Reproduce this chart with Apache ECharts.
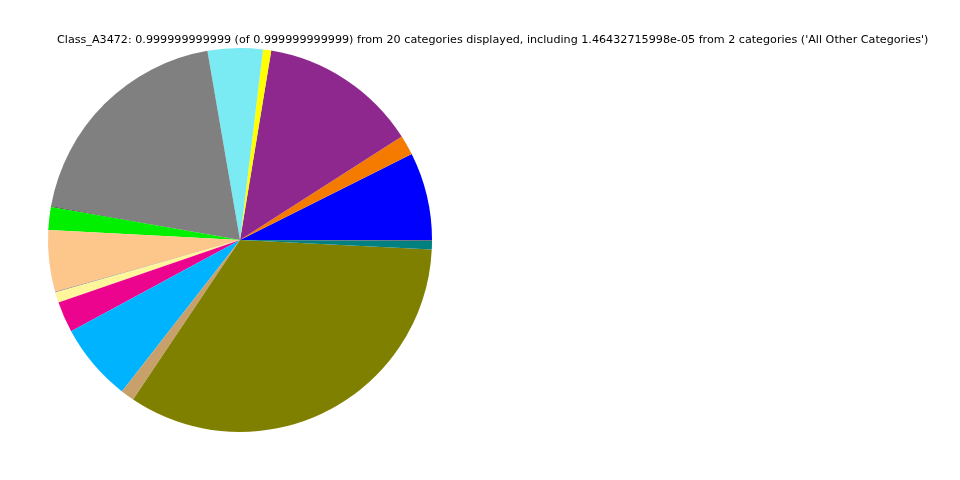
<!DOCTYPE html>
<html><head><meta charset="utf-8">
<script src="https://cdn.jsdelivr.net/npm/echarts@6/dist/echarts.min.js"></script>
<style>html,body{margin:0;padding:0;background:#fff}#c{width:960px;height:480px}</style>
</head><body><div id="c"></div>
<script>
var titleText = "Class_A3472: 0.999999999999 (of 0.999999999999) from 20 categories displayed, including 1.46432715998e-05 from 2 categories ('All Other Categories')";
var categories = ["Cat 1","Cat 2","Cat 3","Cat 4","Cat 5","Cat 6","Cat 7","Cat 8","Cat 9","Cat 10","Cat 11","Cat 12","Cat 13","Cat 14","Cat 15","Cat 16","Cat 17","Cat 18","All Other Categories","Cat 20"];
var values = [0.0740,0.0167,0.1336,0.0069,0.0464,0.1950,0.0006,0.0192,0.0519,0.0005,0.0089,0.0261,0.0658,0.0114,0.3367,0.0069,0.0004,0.0003,0.0000146,0.0002];
var colors = ["#0000ff","#f57a00","#8e288e","#ffff00","#7aeaf3","#808080","#333333","#00f000","#fdc78c","#888888","#fff59a","#ec048f","#00b3ff","#c8a06c","#808000","#008080","#1a3a5a","#222244","#444444","#555555"];
var chart = echarts.init(document.getElementById('c'));
var data = categories.map(function(n,i){return {name:n,value:values[i],itemStyle:{color:colors[i]}};});
chart.setOption({
  animation:false,
  title:{text:titleText,left:52,top:30,textStyle:{fontFamily:'DejaVu Sans',fontSize:11.16,fontWeight:'normal',color:'#000'}},
  series:[{type:'pie',center:[240,240],radius:[0,192],startAngle:0,clockwise:false,
    label:{show:false},labelLine:{show:false},emphasis:{disabled:true},
    itemStyle:{borderWidth:0},data:data}]
});
</script></body></html>
